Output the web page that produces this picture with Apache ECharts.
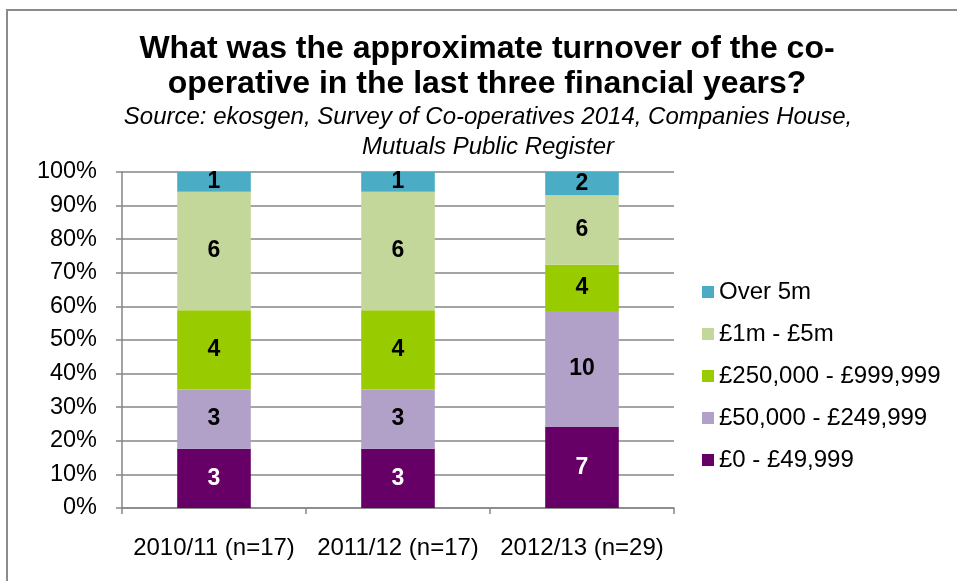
<!DOCTYPE html>
<html>
<head>
<meta charset="utf-8">
<script src="https://cdn.jsdelivr.net/npm/echarts@6/dist/echarts.min.js"></script>
<style>
  html, body { margin: 0; padding: 0; background: #ffffff; }
  #chart { width: 957px; height: 581px; }
</style>
</head>
<body>
<div id="chart"></div>
<script>
// Turnover bands of co-operatives, counts per financial year
const categories = ['2010/11 (n=17)', '2011/12 (n=17)', '2012/13 (n=29)'];
const bandNames = ['£0 - £49,999', '£50,000 - £249,999', '£250,000 - £999,999', '£1m - £5m', 'Over 5m'];
const band0to50k = [3, 3, 7];
const band50kto250k = [3, 3, 10];
const band250kto1m = [4, 4, 4];
const band1mto5m = [6, 6, 6];
const bandOver5m = [1, 1, 2];
const yTicks = ['0%', '10%', '20%', '30%', '40%', '50%', '60%', '70%', '80%', '90%', '100%'];

const bandCounts = [band0to50k, band50kto250k, band250kto1m, band1mto5m, bandOver5m];
const bandColors = ['#660066', '#B1A0C7', '#99CC00', '#C4D79B', '#4BACC6'];
const labelColors = ['#ffffff', '#000000', '#000000', '#000000', '#000000'];

// column totals, used to turn counts into shares of 100%
const totals = categories.map((_, i) => bandCounts.reduce((s, arr) => s + arr[i], 0));

const font = 'Liberation Sans, Arial, sans-serif';

const series = bandNames.map((name, k) => ({
  name: name,
  type: 'bar',
  stack: 'share',
  barWidth: '40%',
  data: bandCounts[k].map((v, i) => ({ value: v / totals[i] * 100, count: v })),
  itemStyle: { color: bandColors[k] },
  label: {
    show: true,
    position: 'inside',
    fontFamily: font,
    fontWeight: 'bold',
    fontSize: 23,
    color: labelColors[k],
    formatter: p => String(p.data.count)
  }
}));

const chart = echarts.init(document.getElementById('chart'), null, { renderer: 'canvas' });
chart.setOption({
  animation: false,
  backgroundColor: '#ffffff',
  graphic: [{
    type: 'rect',
    shape: { x: 7, y: 10, width: 980, height: 600 },
    style: { fill: 'none', stroke: '#8c8c8c', lineWidth: 2 },
    silent: true,
    z: -10
  }],
  title: [{
    text: 'What was the approximate turnover of the co-\noperative in the last three financial years?',
    left: 487,
    top: 32,
    textAlign: 'center',
    padding: 0,
    textStyle: {
      fontFamily: font,
      fontWeight: 'bold',
      fontSize: 32,
      lineHeight: 34.5,
      color: '#000000',
      align: 'center'
    }
  }, {
    text: 'Source: ekosgen, Survey of Co-operatives 2014, Companies House,\nMutuals Public Register',
    left: 488,
    top: 102,
    textAlign: 'center',
    padding: 0,
    textStyle: {
      fontFamily: font,
      fontStyle: 'italic',
      fontWeight: 'normal',
      fontSize: 24,
      lineHeight: 30.5,
      color: '#000000',
      align: 'center'
    }
  }],
  legend: {
    data: bandNames.slice().reverse(),
    orient: 'vertical',
    left: 702,
    top: 280,
    padding: 0,
    itemWidth: 12,
    itemHeight: 12,
    itemGap: 18,
    icon: 'rect',
    textStyle: { fontFamily: font, fontSize: 24, lineHeight: 24, color: '#000000' }
  },
  grid: {
    left: 122,
    right: 283,
    top: 172,
    bottom: 73,
    containLabel: false
  },
  xAxis: {
    type: 'category',
    data: categories,
    axisLine: { show: true, lineStyle: { color: '#868686', width: 1.5 } },
    axisTick: { show: true, length: 6, alignWithLabel: false, lineStyle: { color: '#868686', width: 1.5 } },
    axisLabel: { interval: 0, fontFamily: font, fontSize: 24, color: '#000000', margin: 28 }
  },
  yAxis: {
    type: 'value',
    min: 0,
    max: 100,
    interval: 10,
    axisLine: { show: true, lineStyle: { color: '#868686', width: 1.5 } },
    axisTick: { show: true, length: 6, lineStyle: { color: '#868686', width: 1.5 } },
    splitLine: { show: true, lineStyle: { color: '#868686', width: 1.5 } },
    axisLabel: {
      fontFamily: font,
      fontSize: 23.5,
      color: '#000000',
      margin: 25,
      formatter: v => yTicks[Math.round(v / 10)]
    }
  },
  series: series
});
</script>
</body>
</html>
